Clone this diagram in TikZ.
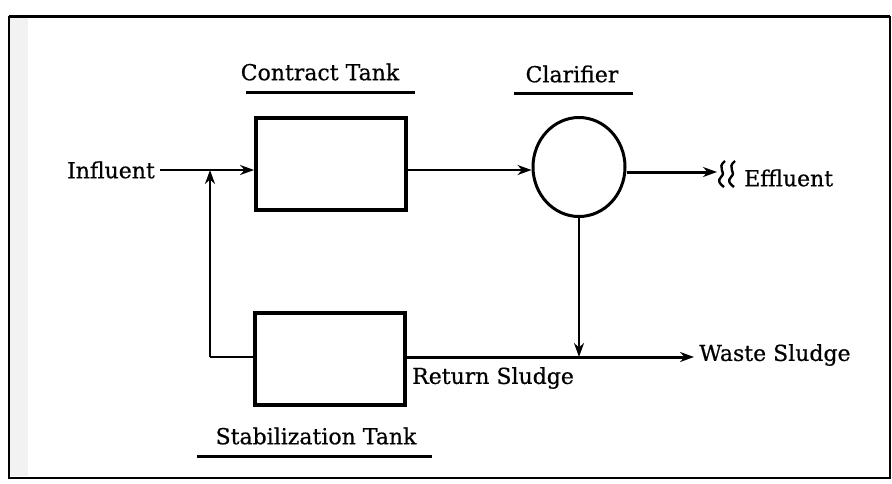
\documentclass[tikz,border=0pt]{standalone}
\usepackage{fontspec}
\setmainfont[FakeBold=0.6]{DejaVu Serif}
\usetikzlibrary{arrows.meta,shapes.geometric}
\begin{document}
\begin{tikzpicture}[x=1pt,y=-1pt,
  tank/.style={draw,line width=3.8pt,minimum width=150pt,minimum height=92pt,inner sep=0pt},
  clar/.style={draw,ellipse,line width=3pt,minimum width=92pt,minimum height=99pt,inner sep=0pt},
  lbl/.style={font=\fontsize{22}{26}\selectfont,inner sep=0pt},
  flow/.style={line width=2.4pt,-{Stealth[length=14pt,width=10pt]}},
  pipe/.style={line width=2.4pt},
  uline/.style={line width=3pt}]
\useasboundingbox (0,0) rectangle (892,483);
\fill[white] (0,0) rectangle (892,483);
\fill[black!5] (10,18) rectangle (28,476);
\draw[line width=2.6pt] (9,17) rectangle (890,478);
\draw[line width=1.5pt] (9,16) -- (890,16);
% nodes
\node[tank] (ct) at (331,164) {};
\node[tank] (st) at (330,359) {};
\node[clar] (cl) at (579,167) {};
\node[lbl,anchor=east] (inf) at (155,170) {Influent};
\node[lbl,anchor=west] (eff) at (744,178) {Effluent};
\node[lbl,anchor=west] (ws) at (699,355) {Waste Sludge};
\node[lbl,anchor=west] (rs) at (412,378) {Return Sludge};
\node[lbl] (ctl) at (320,72) {Contract Tank};
\node[lbl] (cll) at (572,74) {Clarifier};
\node[lbl] (stl) at (316,436) {Stabilization Tank};
\coordinate (j1) at (210,170);
\coordinate (j2) at (210,357);
\coordinate (j3) at (579,357);
\coordinate (wsend) at (694,357);
\coordinate (effend) at (717,172);
% underlines
\draw[uline] (246,92) -- (415,92);
\draw[uline] (514,93) -- (633,93);
\draw[uline] (197,456) -- (432,456);
% connectors
\draw[flow] (inf.east |- j1) ++(5,0) -- (ct.west |- j1);
\draw[pipe] (st.west |- j2) -- (j2);
\draw[flow] (j2) -- (j1);
\draw[flow] (ct.east |- 0,170) -- (cl.west |- 0,170);
\draw[flow,line width=3pt] (cl.east |- effend) -- (effend);
\draw[flow] (cl.south) -- (j3);
\draw[pipe,line width=3pt,-{Stealth[length=14pt,width=10pt]}] (st.east |- j2) -- (wsend);
% squiggle
\draw[line width=2.4pt] (725,161) .. controls (716,168) and (727,172) .. (721,177) .. controls (717,181) and (720,184) .. (724,187);
\draw[line width=2.4pt] (735,161) .. controls (726,168) and (737,172) .. (731,177) .. controls (727,181) and (730,184) .. (734,187);
\end{tikzpicture}
\end{document}
